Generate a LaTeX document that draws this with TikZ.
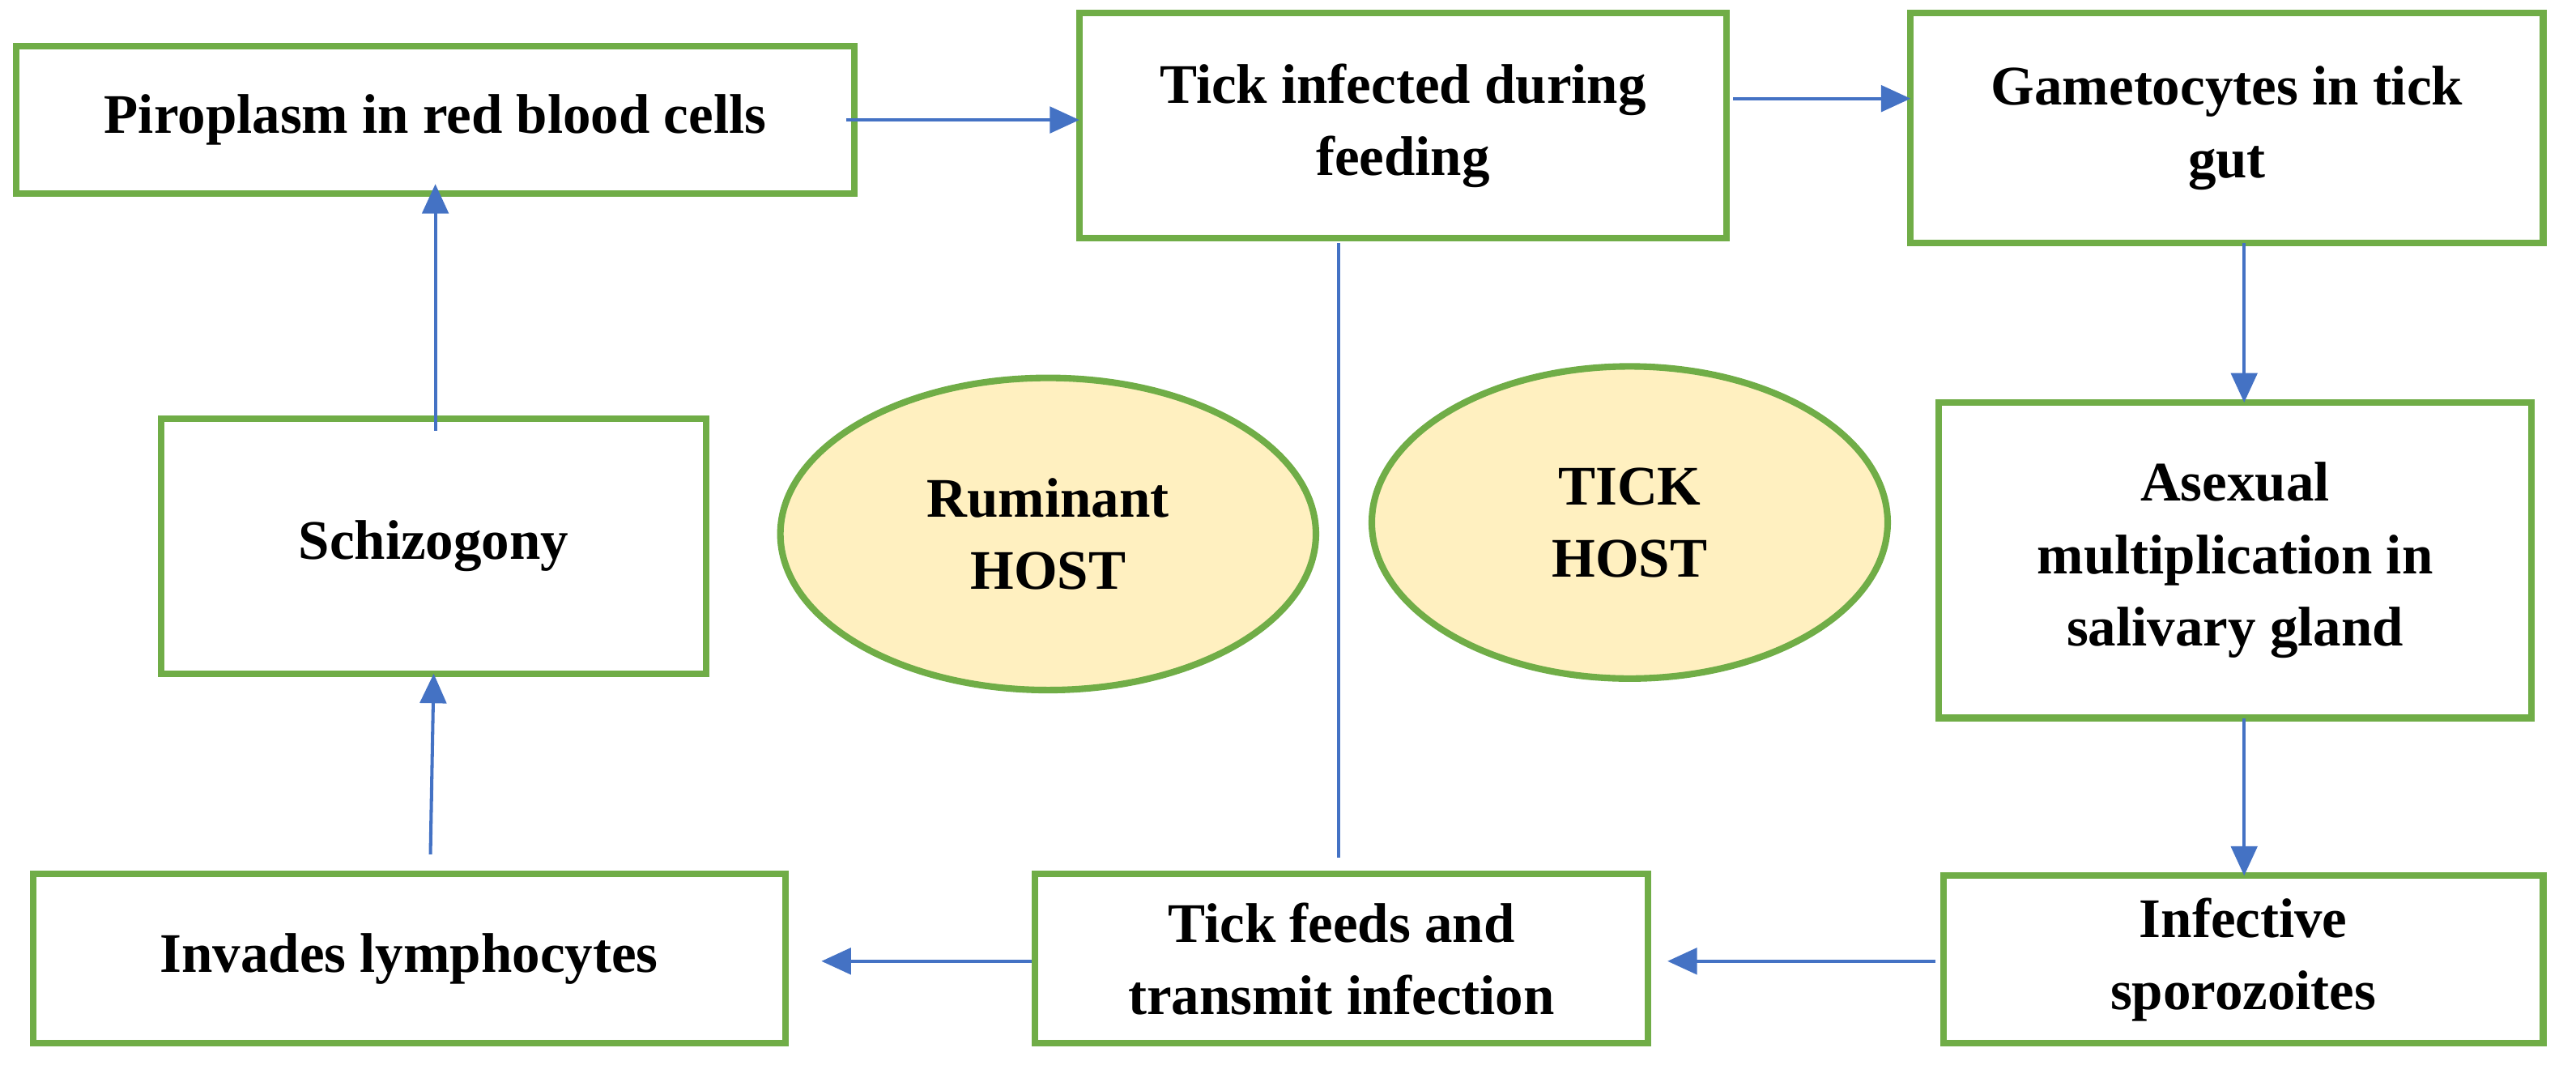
\documentclass[tikz,border=0pt]{standalone}
\usepackage{fontspec}
\setmainfont{Liberation Serif}
\usetikzlibrary{arrows.meta,shapes.geometric}
\definecolor{gr}{RGB}{112,173,71}
\definecolor{bl}{RGB}{68,114,196}
\definecolor{yl}{RGB}{255,240,192}
\begin{document}
\begin{tikzpicture}[x=0.5pt,y=-0.5pt,
 box/.style={draw=gr,line width=2pt,fill=white,align=center,font=\fontsize{17}{22}\selectfont\bfseries,inner sep=0pt},
 ell/.style={ellipse,draw=gr,line width=2pt,fill=yl,align=center,font=\fontsize{17}{22}\selectfont\bfseries,inner sep=0pt},
 arr/.style={draw=bl,line width=1pt,-{Triangle[length=9pt,width=8pt]}}]
\useasboundingbox (0,0) rectangle (1568,648);
\newcommand\bx[6]{\node[box,minimum width={(#4-#2)*0.5pt},minimum height={(#5-#3)*0.5pt}] (#1) at ({(#2+#4)/2},{(#3+#5)/2}) {#6};}
\bx{a}{10}{28}{520}{118}{Piroplasm in red blood cells}
\bx{b}{657}{8}{1051}{145}{Tick infected during\\feeding}
\bx{c}{1163}{8}{1548}{148}{Gametocytes in tick\\gut}
\bx{d}{98}{255}{430}{410}{Schizogony}
\bx{e}{1180}{245}{1541}{437}{Asexual\\multiplication in\\salivary gland}
\bx{f}{20}{532}{478}{635}{Invades lymphocytes}
\bx{g}{630}{532}{1003}{635}{Tick feeds and\\transmit infection}
\bx{h}{1183}{533}{1548}{635}{Infective\\sporozoites}
\node[ell,minimum width=163pt,minimum height=95pt] (r) at (638,325) {Ruminant\\HOST};
\node[ell,minimum width=157pt,minimum height=95pt] (t) at (992,318) {TICK\\HOST};
\coordinate (l1) at (815,148); \coordinate (l2) at (815,522);
\draw[bl,line width=1pt] (l1) -- (l2);
\coordinate (p1) at (515,73); \coordinate (p2) at (1055,60);
\coordinate (p3) at (1366,148); \coordinate (p4) at (1366,437);
\coordinate (p5) at (1178,585); \coordinate (p6) at (628,585);
\coordinate (p7) at (262,520); \coordinate (p8) at (265,262);
\draw[arr] (p1) -- (657,73);
\draw[arr] (p2) -- (1163,60);
\draw[arr] (p3) -- (1366,245);
\draw[arr] (p4) -- (1366,533);
\draw[arr] (p5) -- (1015,585);
\draw[arr] (p6) -- (500,585);
\draw[arr] (p7) -- (264,410);
\draw[arr] (p8) -- (265,112);
\end{tikzpicture}
\end{document}
